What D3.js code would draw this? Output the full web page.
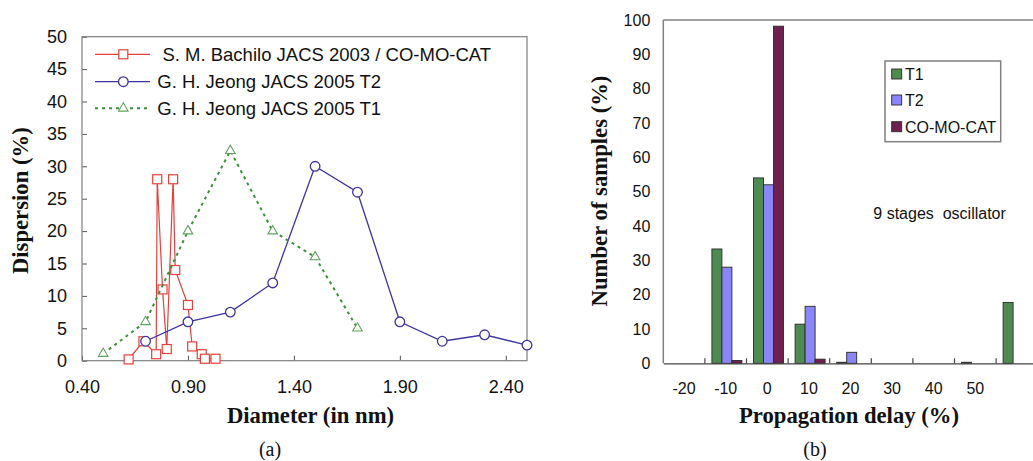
<!DOCTYPE html>
<html>
<head>
<meta charset="utf-8">
<script src="https://d3js.org/d3.v7.min.js"></script>
<style>
  body { margin: 0; background: #fff; }
  svg { display: block; }
  text { font-family: "Liberation Sans", Arial, sans-serif; fill: #111; }
  .title { font-family: "Liberation Serif", "Times New Roman", serif; font-weight: bold; font-size: 22.7px; }
  .caption { font-family: "Liberation Serif", "Times New Roman", serif; font-size: 20px; }
</style>
</head>
<body>
<svg id="chart" width="1033" height="461"></svg>
<script>
// ---- (a) tube diameter distributions ----
const diamBachilo = [0.62, 0.69, 0.75, 0.755, 0.78, 0.80, 0.83, 0.84, 0.90, 0.92, 0.965, 0.98, 1.03];
const dispBachilo = [0.2, 3.0, 1.0, 28, 11, 1.8, 28, 14, 8.6, 2.2, 1.0, 0.3, 0.3];

const diamT2 = [0.70, 0.90, 1.10, 1.30, 1.50, 1.70, 1.90, 2.10, 2.30, 2.50];
const dispT2 = [3.0, 6.0, 7.5, 12, 30, 26, 6.0, 3.0, 4.0, 2.4];

const diamT1 = [0.50, 0.70, 0.90, 1.10, 1.30, 1.50, 1.70];
const dispT1 = [1.1, 6.0, 20, 32.4, 20, 16, 5.0];

const xTicksA = [0.4, 0.9, 1.4, 1.9, 2.4];
const legendA = [" S. M. Bachilo JACS 2003 / CO-MO-CAT", "G. H. Jeong JACS 2005 T2", "G. H. Jeong JACS 2005 T1"];

// ---- (b) propagation delay histogram ----
const delayCats = ["-20", "-10", "0", "10", "20", "30", "40", "50", ""];
const samplesT1 = [0, 33.3, 54, 11.4, 0.3, 0, 0, 0.3, 17.7];
const samplesT2 = [0, 28, 52, 16.6, 3.2, 0, 0, 0, 0];
const samplesComocat = [0, 0.8, 98.2, 1.2, 0, 0, 0, 0, 0];
const seriesB = ["T1", "T2", "CO-MO-CAT"];

const svg = d3.select("#chart");

// colours
const red = "#e4403c", blue = "#3d359e", green = "#3d8f3d", greenLight = "#5fa35f";
const barColors = { "T1": "#4f8a52", "T2": "#8b86f7", "CO-MO-CAT": "#6f204e" };

// ================= chart (a) =================
const A = { left: 82, right: 527, top: 36.7, bottom: 360.7 };
const xA = d3.scaleLinear().domain([0.4, 2.5]).range([A.left, A.right]);
const yA = d3.scaleLinear().domain([0, 50]).range([A.bottom, A.top]);

const gA = svg.append("g");

gA.append("g")
  .attr("transform", `translate(0,${A.bottom})`)
  .call(d3.axisBottom(xA).tickValues(xTicksA).tickFormat(d3.format(".2f"))
        .tickSizeInner(-5).tickSizeOuter(0).tickPadding(19.5))
  .call(g => g.select(".domain").remove())
  .call(g => g.selectAll("line").attr("stroke", "#555"))
  .call(g => g.selectAll("text").style("font-size", "18px"));

gA.append("g")
  .attr("transform", `translate(${A.left},0)`)
  .call(d3.axisLeft(yA).tickValues(d3.range(0, 51, 5))
        .tickSizeInner(-5).tickSizeOuter(0).tickPadding(15))
  .call(g => g.select(".domain").remove())
  .call(g => g.selectAll("line").attr("stroke", "#555"))
  .call(g => g.selectAll("text").style("font-size", "18px"));

gA.append("rect")
  .attr("x", A.left).attr("y", A.top)
  .attr("width", A.right - A.left).attr("height", A.bottom - A.top)
  .attr("fill", "none").attr("stroke", "#7f7f7f").attr("stroke-width", 1.2);

const lineA = d3.line().x(d => xA(d[0])).y(d => yA(d[1]));

const ptsBachilo = d3.zip(diamBachilo, dispBachilo);
const ptsT2 = d3.zip(diamT2, dispT2);
const ptsT1 = d3.zip(diamT1, dispT1);

// Bachilo: red squares
gA.append("path").datum(ptsBachilo).attr("d", lineA)
  .attr("fill", "none").attr("stroke", red).attr("stroke-width", 1.2);
gA.selectAll(".sq").data(ptsBachilo).enter().append("rect")
  .attr("x", d => xA(d[0]) - 4.5).attr("y", d => yA(d[1]) - 4.5)
  .attr("width", 9).attr("height", 9)
  .attr("fill", "#fff").attr("stroke", red).attr("stroke-width", 1.2);

// Jeong T2: blue circles
gA.append("path").datum(ptsT2).attr("d", lineA)
  .attr("fill", "none").attr("stroke", blue).attr("stroke-width", 1.3);
gA.selectAll(".ci").data(ptsT2).enter().append("circle")
  .attr("cx", d => xA(d[0])).attr("cy", d => yA(d[1])).attr("r", 4.8)
  .attr("fill", "#fff").attr("stroke", blue).attr("stroke-width", 1.3);

// Jeong T1: green dotted triangles
const tri = d3.symbol().type(d3.symbolTriangle).size(40);
gA.append("path").datum(ptsT1).attr("d", lineA)
  .attr("fill", "none").attr("stroke", green).attr("stroke-width", 2)
  .attr("stroke-dasharray", "3,4");
gA.selectAll(".tr").data(ptsT1).enter().append("path")
  .attr("d", tri)
  .attr("transform", d => `translate(${xA(d[0])},${yA(d[1])})`)
  .attr("fill", "#fff").attr("stroke", greenLight).attr("stroke-width", 1.1);

// legend (a)
const legRowsA = [54.3, 81.7, 108.3];
const legX0 = 95, legX1 = 150, legMk = 123.3;
legendA.forEach((label, i) => {
  const y = legRowsA[i];
  const col = [red, blue, green][i];
  const ln = gA.append("line").attr("x1", legX0).attr("x2", legX1)
    .attr("y1", y).attr("y2", y).attr("stroke", col)
    .attr("stroke-width", i === 2 ? 2 : 1.2);
  if (i === 2) ln.attr("stroke-dasharray", "3,4");
  if (i === 0) {
    gA.append("rect").attr("x", legMk - 4.5).attr("y", y - 4.5)
      .attr("width", 9).attr("height", 9)
      .attr("fill", "#fff").attr("stroke", red).attr("stroke-width", 1.2);
  } else if (i === 1) {
    gA.append("circle").attr("cx", legMk).attr("cy", y).attr("r", 4.8)
      .attr("fill", "#fff").attr("stroke", blue).attr("stroke-width", 1.3);
  } else {
    gA.append("path").attr("d", tri).attr("transform", `translate(${legMk},${y})`)
      .attr("fill", "#fff").attr("stroke", greenLight).attr("stroke-width", 1.1);
  }
  gA.append("text").attr("x", 157.3).attr("y", y + 6.6)
    .style("font-size", "18.5px").style("white-space", "pre")
    .text(label);
});

gA.append("text").attr("class", "title")
  .attr("x", (A.left + A.right) / 2 + 6).attr("y", 423)
  .attr("text-anchor", "middle").text("Diameter (in nm)");
gA.append("text").attr("class", "title")
  .attr("transform", `translate(28,${(A.top + A.bottom) / 2 + 2}) rotate(-90)`)
  .attr("text-anchor", "middle").text("Dispersion (%)");
gA.append("text").attr("class", "caption")
  .attr("x", 270).attr("y", 456).attr("text-anchor", "middle").text("(a)");

// ================= chart (b) =================
const B = { left: 663.3, top: 20, bottom: 363.3, step: 41.6 };
B.right = B.left + B.step * delayCats.length;

const xB = d3.scaleBand().domain(delayCats).range([B.left, B.right]).paddingInner(0).paddingOuter(0);
const xSub = d3.scaleBand().domain(seriesB).range([7, 37]).padding(0);
const yB = d3.scaleLinear().domain([0, 100]).range([B.bottom, B.top]);

const gB = svg.append("g");

// frame lines
gB.append("line").attr("x1", B.left).attr("x2", B.right).attr("y1", B.top).attr("y2", B.top)
  .attr("stroke", "#808080").attr("stroke-width", 1.5);
gB.append("line").attr("x1", B.left).attr("x2", B.left).attr("y1", B.top).attr("y2", B.bottom)
  .attr("stroke", "#808080").attr("stroke-width", 1.5);

gB.append("g")
  .attr("transform", `translate(${B.left},0)`)
  .call(d3.axisLeft(yB).tickValues(d3.range(0, 101, 10)).tickSize(0).tickPadding(13))
  .call(g => g.select(".domain").remove())
  .call(g => g.selectAll("text").style("font-size", "16px"));

const tableB = delayCats.map((c, i) => ({
  cat: c,
  vals: [
    { s: "T1", v: samplesT1[i] },
    { s: "T2", v: samplesT2[i] },
    { s: "CO-MO-CAT", v: samplesComocat[i] }
  ]
}));

const groups = gB.selectAll(".grp").data(tableB).enter().append("g")
  .attr("transform", d => `translate(${xB(d.cat)},0)`);
groups.selectAll("rect").data(d => d.vals.filter(e => e.v > 0)).enter().append("rect")
  .attr("x", d => xSub(d.s)).attr("width", xSub.bandwidth())
  .attr("y", d => yB(d.v)).attr("height", d => yB(0) - yB(d.v))
  .attr("fill", d => barColors[d.s]).attr("stroke", "#2a2a2a").attr("stroke-width", 0.9);

// x axis (b): labels at band centres, ticks at band edges
gB.append("g")
  .attr("transform", `translate(0,${B.bottom})`)
  .call(d3.axisBottom(xB).tickSize(0).tickPadding(19))
  .call(g => g.select(".domain").attr("stroke", "#444").attr("stroke-width", 1.3))
  .call(g => g.selectAll("text").style("font-size", "16px"));
gB.selectAll(".xtick").data(delayCats.slice(1)).enter().append("line")
  .attr("x1", d => xB(d)).attr("x2", d => xB(d))
  .attr("y1", B.bottom).attr("y2", B.bottom - 5)
  .attr("stroke", "#444").attr("stroke-width", 1.2);

// legend (b)
gB.append("rect").attr("x", 885).attr("y", 61).attr("width", 115.7).attr("height", 80.7)
  .attr("fill", "#fff").attr("stroke", "#808080").attr("stroke-width", 1.5);
const legRowsB = [74, 100, 126.7];
seriesB.forEach((s, i) => {
  gB.append("rect").attr("x", 891.7).attr("y", legRowsB[i] - 5).attr("width", 10).attr("height", 10)
    .attr("fill", barColors[s]).attr("stroke", "#2a2a2a").attr("stroke-width", 0.9);
  gB.append("text").attr("x", 905).attr("y", legRowsB[i] + 5.8)
    .style("font-size", "16px").text(s);
});

gB.append("text").attr("x", 873.3).attr("y", 219)
  .style("font-size", "16px").style("white-space", "pre").text("9 stages  oscillator");

gB.append("text").attr("class", "title")
  .attr("x", 849).attr("y", 423).attr("text-anchor", "middle").text("Propagation delay (%)");
gB.append("text").attr("class", "title")
  .attr("transform", `translate(607,191) rotate(-90)`)
  .attr("text-anchor", "middle").text("Number of samples (%)");
gB.append("text").attr("class", "caption")
  .attr("x", 815).attr("y", 456).attr("text-anchor", "middle").text("(b)");
</script>
</body>
</html>
